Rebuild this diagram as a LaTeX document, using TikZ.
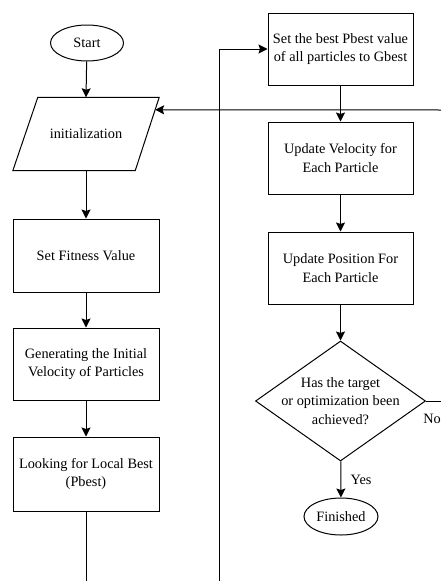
\documentclass[tikz,border=0pt]{standalone}
\usepackage{fontspec}
\setmainfont{Liberation Serif}
\usetikzlibrary{shapes.geometric,arrows.meta}
\begin{document}
\begin{tikzpicture}[x=1pt,y=-1pt,
  every node/.style={font=\fontsize{14.3}{18.5}\selectfont, align=center},
  box/.style={draw, rectangle, line width=1pt, minimum width=146pt, minimum height=73pt, inner sep=0pt},
  term/.style={draw, ellipse, line width=1pt, minimum width=73pt, minimum height=36pt, inner sep=0pt},
  iobody/.style={rectangle, minimum width=146pt, minimum height=73pt, inner sep=0pt},
  decision/.style={draw, diamond, line width=1pt, minimum width=170pt, minimum height=120pt, inner sep=0pt},
  flow/.style={-{Stealth[length=9pt,width=9pt,inset=1.5pt]}, line width=1pt},
  plain/.style={line width=1pt}]
\useasboundingbox (0,0) rectangle (441,581);

\node[term] (start) at (87,43) {Start};
\node[iobody] (init) at (86,134) {initialization};
\coordinate (itl) at ([xshift=25pt]init.north west);
\coordinate (itr) at (init.north east);
\coordinate (ibr) at ([xshift=-24pt]init.south east);
\coordinate (ibl) at (init.south west);
\draw[plain] (itl) -- (itr) -- (ibr) -- (ibl) -- cycle;

\node[box] (fit) at (86,255.5) {Set Fitness Value};
\node[box, minimum height=72pt] (gen) at (86,364) {Generating the Initial\\Velocity of Particles};
\node[box, minimum height=74pt] (look) at (86,474) {Looking for Local Best\\(Pbest)};

\node[box, minimum width=145pt, minimum height=72pt] (best) at (340.5,49) {Set the best Pbest value\\of all particles to Gbest};
\node[box, minimum width=145pt, minimum height=72pt] (vel) at (340.5,158) {Update Velocity for\\Each Particle};
\node[box, minimum width=145pt, minimum height=72pt] (pos) at (340.5,268) {Update Position For\\Each Particle};
\node[decision] (dec) at (340.5,401) {};
\node (dectext) at (dec) {Has the target\\or optimization been\\achieved?};
\node[term, minimum width=74pt, minimum height=37pt] (fin) at (341,516.5) {Finished};

\coordinate (lookend) at (86,581);
\coordinate (loopbot) at (219,581);
\coordinate (looptop) at (219,49);
\coordinate (rin) at (441,110);
\coordinate (rout) at (441,401);
\path (itr) -- (ibr) coordinate[pos=0.17] (hit);

\draw[flow] (start) -- (init.north);
\draw[flow] (init.south) -- (fit);
\draw[flow] (fit) -- (gen);
\draw[flow] (gen) -- (look);
\draw[plain] (look) -- (lookend);

\draw[flow] (loopbot) -- (looptop) -- (best);
\draw[flow] (best) -- (vel);
\draw[flow] (vel) -- (pos);
\draw[flow] (pos) -- (dec);
\draw[flow] (dec) -- node[right, xshift=6pt] (yes) {Yes} (fin);
\draw[plain] (dec.east) -- (rout);
\node[anchor=east, inner sep=0pt] (no) at (441,419) {No};
\draw[flow] (rin) -- (hit);
\end{tikzpicture}
\end{document}
